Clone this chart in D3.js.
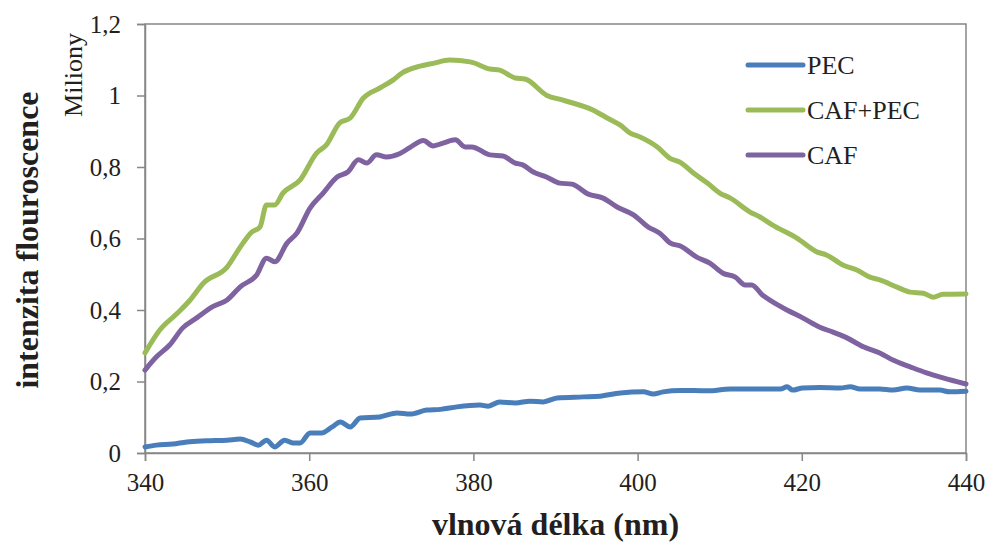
<!DOCTYPE html>
<html>
<head>
<meta charset="utf-8">
<script src="https://cdn.jsdelivr.net/npm/d3@7"></script>
<style>
  html, body { margin: 0; padding: 0; background: #fff; }
  svg { display: block; }
  text { font-family: "Liberation Serif", "Times New Roman", serif; fill: #231f20; }
</style>
</head>
<body>
<svg id="chart" width="989" height="544"></svg>
<script>
// Emission spectra, intensity in millions vs. wavelength (nm): [nm, value]
const pec = [
  [340,0.017],[341.4,0.022],[343.4,0.025],[345.1,0.031],[347.5,0.034],[350,0.036],[351.6,0.039],
  [352.8,0.031],[353.8,0.022],[354.8,0.036],[355.8,0.017],[357,0.036],[358,0.028],[358.9,0.028],
  [360.1,0.056],[361.5,0.056],[362.8,0.073],[363.8,0.087],[365,0.073],[366.2,0.098],[368.6,0.101],
  [370.7,0.112],[372.3,0.109],[374.3,0.12],[376,0.122],[378,0.129],[380.8,0.134],[381.8,0.131],
  [383.2,0.143],[385.1,0.14],[386.9,0.145],[388.5,0.143],[390.2,0.154],[393.4,0.157],[395.4,0.159],
  [397.9,0.168],[400.7,0.171],[401.9,0.165],[403.1,0.171],[405.2,0.175],[408.5,0.174],[411.3,0.179],
  [417.4,0.179],[418.2,0.185],[418.9,0.176],[420.1,0.182],[422.2,0.183],[424.7,0.182],[425.9,0.185],
  [427.1,0.179],[429.5,0.179],[431.1,0.176],[432.8,0.182],[434.4,0.176],[436.8,0.176],[438,0.171],
  [440,0.173]
];
const cafPec = [
  [340,0.28],[341.8,0.344],[343.9,0.39],[345.5,0.428],[347.1,0.475],[350,0.52],[351.6,0.576],
  [353,0.618],[354,0.632],[354.8,0.694],[355.8,0.694],[356.8,0.727],[358.9,0.764],[360.9,0.839],
  [362.1,0.862],[363.7,0.923],[365,0.937],[366.6,0.993],[368.6,1.021],[370.2,1.043],[371.3,1.063],
  [373.5,1.082],[375.1,1.09],[377.1,1.099],[379.6,1.094],[382,1.074],[383.2,1.071],[385.1,1.049],
  [386.3,1.046],[388.9,1.001],[390.9,0.987],[394.6,0.959],[396.3,0.937],[397.9,0.917],[399.1,0.895],
  [400.3,0.884],[402.4,0.856],[403.9,0.825],[405.2,0.813],[406.8,0.783],[408.5,0.755],[410,0.727],
  [411.3,0.713],[413.7,0.674],[414.9,0.66],[416.4,0.638],[419.4,0.601],[421.9,0.562],[423,0.554],
  [425,0.526],[426.7,0.512],[428.3,0.492],[429.5,0.484],[431.6,0.464],[433.2,0.45],[434.8,0.447],
  [436,0.436],[437.2,0.444],[440,0.445]
];
const caf = [
  [340,0.232],[341.4,0.269],[343,0.302],[344.6,0.35],[346.3,0.378],[348.3,0.41],[350,0.428],
  [351.6,0.465],[353.6,0.498],[354.8,0.545],[355.8,0.535],[357.3,0.587],[358.5,0.615],[360.1,0.685],
  [361.7,0.727],[363.4,0.772],[364.7,0.786],[366,0.82],[367,0.811],[368.2,0.834],[369.4,0.828],
  [371,0.837],[372.3,0.855],[373.9,0.874],[375.1,0.859],[376.3,0.867],[377.8,0.876],[379,0.856],
  [379.8,0.856],[382,0.834],[383.6,0.831],[385.1,0.811],[386,0.806],[387.3,0.786],[388.9,0.772],
  [390.5,0.755],[392,0.752],[394,0.724],[395.8,0.713],[397.5,0.688],[399.5,0.666],[401.3,0.632],
  [402.7,0.615],[404,0.587],[405.2,0.579],[407.2,0.548],[408.8,0.531],[410.4,0.503],[411.9,0.492],
  [413.1,0.47],[413.9,0.47],[415.2,0.442],[416.5,0.422],[418.2,0.4],[420.1,0.378],[422.2,0.352],
  [423.8,0.338],[425.5,0.322],[427.5,0.297],[429.5,0.28],[431.1,0.26],[433.2,0.241],[435.2,0.224],
  [437.2,0.21],[440,0.193]
];

const seriesNames = ["PEC", "CAF+PEC", "CAF"];
const seriesColors = ["#4a7ebb", "#9bbb59", "#7f63a1"];
const xTicks = [340, 360, 380, 400, 420, 440];
const yTicks = [0, 0.2, 0.4, 0.6, 0.8, 1, 1.2];
const xTitle = "vlnová délka (nm)";
const yTitle = "intenzita flouroscence";
const yUnit = "Miliony";

const series = [pec, cafPec, caf];

const svg = d3.select("#chart");
const plotLeft = 145, plotRight = 966, plotTop = 24, plotBottom = 453;

const x = d3.scaleLinear().domain([340, 440]).range([plotLeft, plotRight]);
const y = d3.scaleLinear().domain([0, 1.2]).range([plotBottom, plotTop]);

const axisColor = "#878787";
const fmt = v => String(v).replace(".", ",");

// plot frame
svg.append("rect")
  .attr("x", plotLeft).attr("y", plotTop)
  .attr("width", plotRight - plotLeft).attr("height", plotBottom - plotTop)
  .attr("fill", "none").attr("stroke", axisColor).attr("stroke-width", 1.5);

// x axis
const gx = svg.append("g").attr("transform", `translate(0,${plotBottom})`)
  .call(d3.axisBottom(x).tickValues(xTicks).tickSize(8).tickPadding(12).tickFormat(d3.format("d")));
gx.select(".domain").attr("stroke", axisColor).attr("stroke-width", 1.5);
gx.selectAll(".tick line").attr("stroke", axisColor).attr("stroke-width", 1.5);
gx.selectAll(".tick text").attr("font-size", 25)
  .attr("font-family", "Liberation Serif").attr("fill", "#231f20");

// y axis
const gy = svg.append("g").attr("transform", `translate(${plotLeft},0)`)
  .call(d3.axisLeft(y).tickValues(yTicks).tickSize(8).tickPadding(16).tickFormat(fmt));
gy.select(".domain").attr("stroke", axisColor).attr("stroke-width", 1.5);
gy.selectAll(".tick line").attr("stroke", axisColor).attr("stroke-width", 1.5);
gy.selectAll(".tick text").attr("font-size", 25)
  .attr("font-family", "Liberation Serif").attr("fill", "#231f20");

// spectra
const line = d3.line().x(d => x(d[0])).y(d => y(d[1])).curve(d3.curveMonotoneX);
svg.append("g").selectAll("path")
  .data(series)
  .join("path")
  .attr("d", line)
  .attr("fill", "none")
  .attr("stroke", (d, i) => seriesColors[i])
  .attr("stroke-width", 5)
  .attr("stroke-linejoin", "round")
  .attr("stroke-linecap", "round");

// legend
const lg = svg.append("g").attr("transform", "translate(748,65)");
const rows = lg.selectAll("g").data(seriesNames).join("g")
  .attr("transform", (d, i) => `translate(0,${i * 45})`);
rows.append("line")
  .attr("x1", 0).attr("x2", 55).attr("y1", 0).attr("y2", 0)
  .attr("stroke", (d, i) => seriesColors[i])
  .attr("stroke-width", 5).attr("stroke-linecap", "round");
rows.append("text")
  .attr("x", 59).attr("y", 9)
  .attr("font-size", 26)
  .text(d => d);

// axis titles
svg.append("text")
  .attr("x", (plotLeft + plotRight) / 2).attr("y", 535)
  .attr("text-anchor", "middle")
  .attr("font-size", 32).attr("font-weight", "bold")
  .text(xTitle);

svg.append("text")
  .attr("transform", "translate(38,240) rotate(-90)")
  .attr("text-anchor", "middle")
  .attr("font-size", 32).attr("font-weight", "bold")
  .text(yTitle);

svg.append("text")
  .attr("transform", "translate(82,75) rotate(-90)")
  .attr("text-anchor", "middle")
  .attr("font-size", 26)
  .text(yUnit);
</script>
</body>
</html>
